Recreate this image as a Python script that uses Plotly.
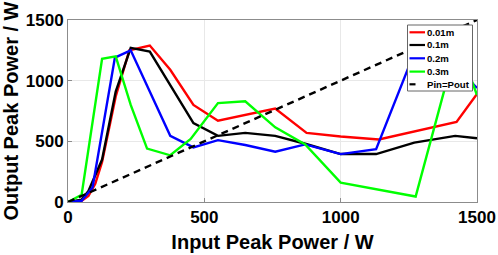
import plotly.graph_objects as go

# ---- data ----
x_001 = [0, 50, 75, 100, 125, 150, 175, 225, 300, 375, 460, 550, 760, 875, 1000, 1140, 1425, 1500]
y_001 = [0, 10, 50, 150, 330, 600, 870, 1250, 1290, 1090, 800, 670, 770, 570, 540, 515, 660, 890]

x_01 = [0, 50, 75, 125, 175, 230, 300, 460, 550, 650, 760, 870, 1000, 1130, 1270, 1420, 1500]
y_01 = [0, 20, 90, 350, 910, 1270, 1240, 650, 545, 570, 545, 480, 395, 395, 490, 545, 525]

x_02 = [0, 50, 90, 172, 230, 375, 460, 550, 650, 760, 870, 1000, 1130, 1260, 1300, 1500]
y_02 = [0, 10, 120, 1190, 1250, 545, 450, 510, 470, 415, 475, 395, 435, 1185, 1400, 940]

x_03 = [0, 50, 125, 175, 230, 290, 375, 450, 550, 650, 760, 870, 1000, 1275, 1380, 1430, 1500]
y_03 = [0, 60, 1180, 1200, 800, 440, 385, 520, 815, 830, 615, 475, 160, 45, 920, 1310, 882]

x_ref = [0, 1500]
y_ref = [0, 1500]

series_names = ["0.01m", "0.1m", "0.2m", "0.3m", "Pin=Pout"]
series_colors = ["#ff0000", "#000000", "#0000ff", "#00ff00", "#000000"]
x_ticks = [0, 500, 1000, 1500]
y_ticks = [0, 500, 1000, 1500]

W, H = 498, 255
ML, MR, MT, MB = 68, 21, 20, 53
PW, PH = W - ML - MR, H - MT - MB

def px2paper_x(px):
    return (px - ML) / PW

def px2paper_y(py):
    return (H - MB - py) / PH

fig = go.Figure()
data = [(x_001, y_001), (x_01, y_01), (x_02, y_02), (x_03, y_03)]
for (xs, ys), name, col in zip(data, series_names[:4], series_colors[:4]):
    fig.add_trace(go.Scatter(x=xs, y=ys, mode="lines", name=name,
                             line=dict(color=col, width=2.4), showlegend=False))
fig.add_trace(go.Scatter(x=x_ref, y=y_ref, mode="lines", name=series_names[4],
                         line=dict(color="#000000", width=2.4, dash="7px,5px"),
                         showlegend=False))

# ---- manual legend (compact, MATLAB-like) ----
box_l, box_r, box_t, box_b = 407.5, 472.5, 25, 91
fig.add_shape(type="rect", xref="paper", yref="paper",
              x0=px2paper_x(box_l), x1=px2paper_x(box_r),
              y0=px2paper_y(box_b), y1=px2paper_y(box_t),
              fillcolor="white", line=dict(color="#666666", width=1), layer="above")
rows = [32.3, 45, 58.3, 71.6, 84.3]
for i, (name, col) in enumerate(zip(series_names, series_colors)):
    py = rows[i]
    x1 = 425 if i < 4 else 415.5
    fig.add_shape(type="line", xref="paper", yref="paper",
                  x0=px2paper_x(409.5), x1=px2paper_x(x1),
                  y0=px2paper_y(py), y1=px2paper_y(py),
                  line=dict(color=col, width=2.2), layer="above")
    fig.add_annotation(xref="paper", yref="paper", x=px2paper_x(426), y=px2paper_y(py),
                       text=name, showarrow=False, xanchor="left", yanchor="middle",
                       borderpad=0,
                       font=dict(family="Liberation Sans, Arial", size=9.6, color="black", weight="bold"))

axis_common = dict(
    automargin=False,
    showgrid=True, gridcolor="#e8e8e8", gridwidth=1,
    zeroline=False, showline=True, linecolor="#8c8c8c", linewidth=1, mirror=True,
    ticks="inside", ticklen=4, tickcolor="#8c8c8c",
    tickfont=dict(family="Liberation Sans, Arial", size=17, color="black", weight="bold"),
)

fig.update_xaxes(range=[0, 1500], tickvals=x_ticks,
                 title=dict(text="Input Peak Power / W", standoff=8,
                            font=dict(family="Liberation Sans, Arial", size=20, color="black", weight="bold")),
                 **axis_common)
fig.update_yaxes(range=[0, 1500], tickvals=y_ticks,
                 title=dict(text="Output Peak Power / W", standoff=4,
                            font=dict(family="Liberation Sans, Arial", size=20, color="black", weight="bold")),
                 **axis_common)

fig.update_layout(width=W, height=H, margin=dict(l=ML, r=MR, t=MT, b=MB, pad=0),
                  plot_bgcolor="white", paper_bgcolor="white", showlegend=False)

fig.write_html("out.html", config={"displayModeBar": False},
               post_script="document.body.style.margin='0px';document.body.style.overflow='hidden';")
